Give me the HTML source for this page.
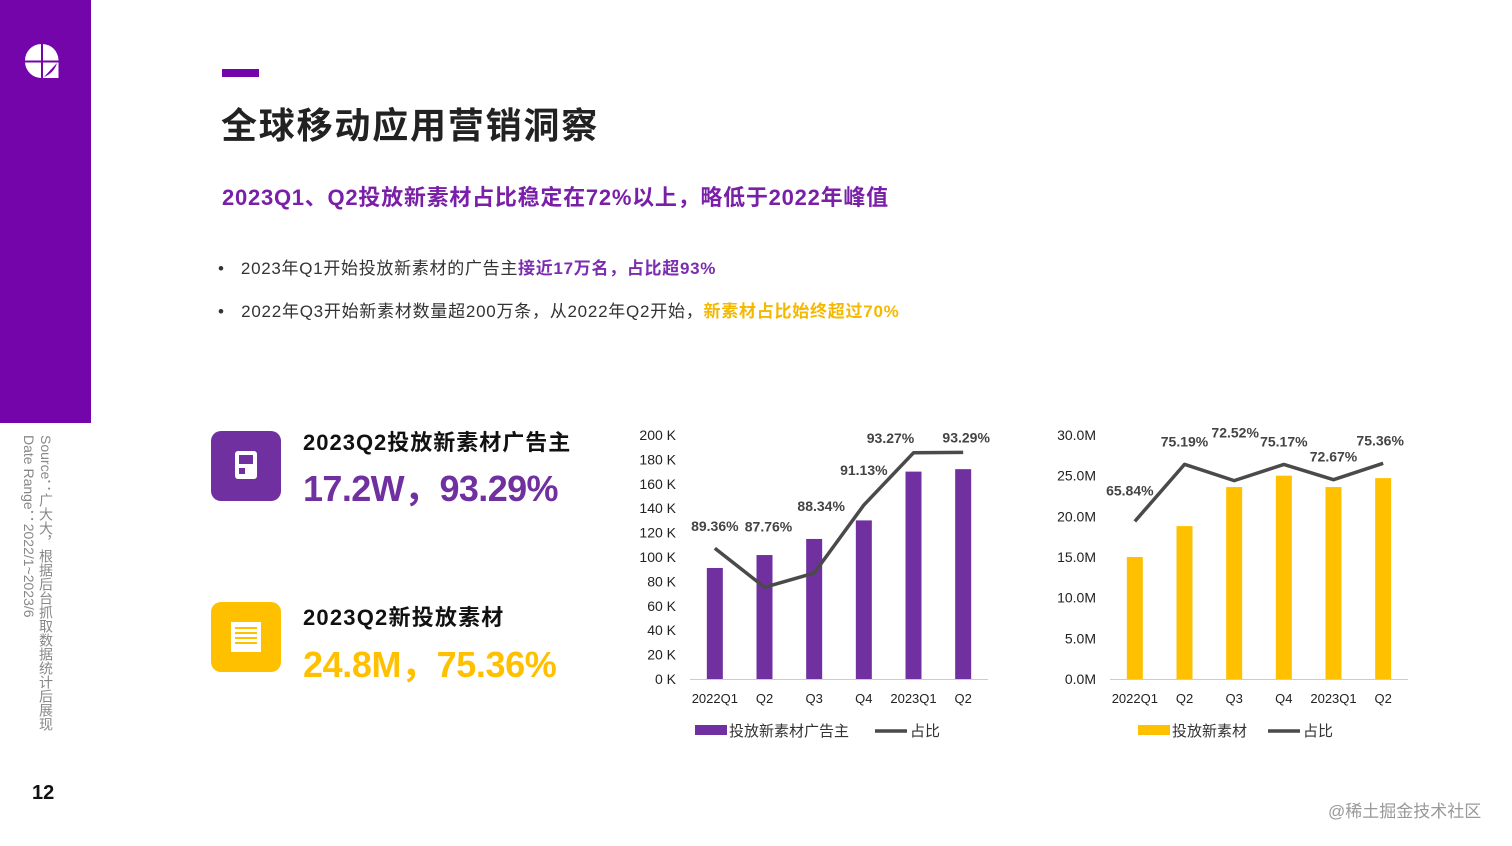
<!DOCTYPE html>
<html><head><meta charset="utf-8">
<style>
*{margin:0;padding:0;box-sizing:border-box}
body{width:1512px;height:846px;background:#fff;position:relative;overflow:hidden;font-family:"Liberation Sans","Noto Sans CJK SC",sans-serif}
.abs{position:absolute;white-space:nowrap}
</style></head><body>
<div class="abs" style="left:0;top:0;width:91px;height:423px;background:#7405aa"></div>
<svg class="abs" style="left:24px;top:43px" width="36" height="36" viewBox="0 0 36 36">
<path d="M17 1A16.5 16.5 0 0 0 1 17.5H17Z M19 1A16.5 16.5 0 0 1 34.5 16.5V17.5H19Z M1 19.5A16.5 16.5 0 0 0 17 35V19.5Z M19 19.5H34.5V35H19Z" fill="#fff"/>
<path d="M20 34L33 20Q30 30 20 34Z" fill="#7405aa"/>
</svg>
<div class="abs" style="left:222px;top:69px;width:37px;height:8px;background:#7405aa"></div>
<div class="abs" style="left:221px;top:104px;font-size:36px;line-height:44px;font-weight:bold;color:#222;letter-spacing:1.8px">全球移动应用营销洞察</div>
<div class="abs" style="left:222px;top:184px;font-size:22px;line-height:28px;font-weight:bold;color:#7a1fa8;letter-spacing:0.75px">2023Q1、Q2投放新素材占比稳定在72%以上，略低于2022年峰值</div>
<div class="abs" style="left:218px;top:258px;font-size:17px;line-height:22px;color:#333;letter-spacing:0.7px">•&nbsp;&nbsp;&nbsp;2023年Q1开始投放新素材的广告主<b style="color:#7b2cb0">接近17万名，占比超93%</b></div>
<div class="abs" style="left:218px;top:301px;font-size:17px;line-height:22px;color:#333;letter-spacing:0.75px">•&nbsp;&nbsp;&nbsp;2022年Q3开始新素材数量超200万条，从2022年Q2开始，<b style="color:#f5b800">新素材占比始终超过70%</b></div>

<div class="abs" style="left:211px;top:431px;width:70px;height:70px;border-radius:10px;background:#7030a0">
<div style="position:absolute;left:24px;top:20px;width:22px;height:28px;border-radius:3px;background:#fff"></div>
<div style="position:absolute;left:28px;top:24px;width:14px;height:9px;background:#7030a0"></div>
<div style="position:absolute;left:28px;top:37px;width:6px;height:6px;background:#7030a0"></div>
</div>
<div class="abs" style="left:303px;top:429px;font-size:22px;line-height:28px;font-weight:bold;color:#111;letter-spacing:1px">2023Q2投放新素材广告主</div>
<div class="abs" style="left:303px;top:467px;font-size:36px;line-height:44px;font-weight:bold;color:#7030a0;letter-spacing:-0.6px">17.2W，93.29%</div>

<div class="abs" style="left:211px;top:602px;width:70px;height:70px;border-radius:10px;background:#ffc000">
<div style="position:absolute;left:20px;top:20px;width:30px;height:30px;background:#fff"></div>
<div style="position:absolute;left:24px;top:25px;width:22px;height:2px;background:#ffc000;box-shadow:0 5px 0 #ffc000,0 10px 0 #ffc000,0 15px 0 #ffc000"></div>
</div>
<div class="abs" style="left:303px;top:604px;font-size:22px;line-height:28px;font-weight:bold;color:#111;letter-spacing:1.2px">2023Q2新投放素材</div>
<div class="abs" style="left:303px;top:643px;font-size:36px;line-height:44px;font-weight:bold;color:#ffc000;letter-spacing:-0.4px">24.8M，75.36%</div>

<div class="abs" style="left:20px;top:435px;writing-mode:vertical-rl;font-size:14px;line-height:17px;color:#888">Source：广大大，根据后台抓取数据统计后展现<br>Date Range：2022/1~2023/6</div>
<div class="abs" style="left:32px;top:780px;font-size:20px;line-height:26px;font-weight:bold;color:#111">12</div>
<div class="abs" style="left:1328px;top:801px;font-size:17px;line-height:22px;color:#999">@稀土掘金技术社区</div>

<svg class="abs" id="charts" style="left:0;top:0" width="1512" height="846"></svg>

<script>
const categories = ["2022Q1","Q2","Q3","Q4","2023Q1","Q2"];
const advertiserCounts = [91, 101.6, 114.8, 130, 170, 172]; // K
const advertiserShare = [89.36, 87.76, 88.34, 91.13, 93.27, 93.29];
const advertiserTicks = ["0 K","20 K","40 K","60 K","80 K","100 K","120 K","140 K","160 K","180 K","200 K"];
const materialCounts = [15.0, 18.8, 23.6, 25.0, 23.6, 24.7]; // M
const materialShare = [65.84, 75.19, 72.52, 75.17, 72.67, 75.36];
const materialTicks = ["0.0M","5.0M","10.0M","15.0M","20.0M","25.0M","30.0M"];

const svg = document.getElementById('charts');
const NS = 'http://www.w3.org/2000/svg';
function mk(tag, attrs, parent){const e=document.createElementNS(NS,tag);for(const k in attrs)e.setAttribute(k,attrs[k]);(parent||svg).appendChild(e);return e;}

function drawChart(cfg){
  const g = mk('g',{});
  
  
  const x0=cfg.x0, x1=cfg.x0+298, yb=679, yt=435, step=(x1-x0)/categories.length;
  const xc=i=>x0+step*(i+0.5);
  const yv=v=>yb-(v/cfg.max)*(yb-yt);
  const yp=p=>yb-((p-cfg.pmin)/(cfg.pmax-cfg.pmin))*(yb-yt);
  cfg.ticks.forEach((t,i)=>{
    const y=yb-i*(yb-yt)/(cfg.ticks.length-1);
    const tx=mk('text',{x:cfg.tickX,y:y+5,'text-anchor':'end','font-size':14,fill:'#222'},g);
    tx.textContent=t;
    
    
  });
  const ax=mk('line',{x1:x0,x2:x1,y1:yb+0.5,y2:yb+0.5,stroke:'#ccc','stroke-width':1},g);
  
  
  categories.forEach((c,i)=>{
    const tx=mk('text',{x:xc(i),y:703,'text-anchor':'middle','font-size':13,fill:'#222'},g);
    tx.textContent=c;
    
    
  });
  cfg.counts.forEach((v,i)=>{
    const r=mk('rect',{x:xc(i)-8,y:yv(v),width:16,height:yb-yv(v),fill:cfg.color},g);
    
    
  });
  const pts=cfg.share.map((p,i)=>xc(i)+','+yp(p)).join(' ');
  const pl=mk('polyline',{points:pts,fill:'none',stroke:'#4a4a4a','stroke-width':3.5,'stroke-linejoin':'round'},g);
  
  
  cfg.share.forEach((p,i)=>{
    const o=cfg.lblOff[i];
    const tx=mk('text',{x:xc(i)+o[0],y:yp(p)+o[1],'text-anchor':'middle','font-size':14,'font-weight':'bold',fill:'#444'},g);
    tx.textContent=p.toFixed(2)+'%';
    
    
  });
  const lr=mk('rect',{x:cfg.legX,y:725,width:32,height:10,fill:cfg.color},g);
  
  
  const lt=mk('text',{x:cfg.legX+34,y:736,'font-size':15,fill:'#333'},g);
  lt.textContent=cfg.legend;
  
  
  const ll=mk('line',{x1:cfg.legX2,x2:cfg.legX2+32,y1:731,y2:731,stroke:'#4a4a4a','stroke-width':3.5},g);
  
  
  const lt2=mk('text',{x:cfg.legX2+35,y:736,'font-size':15,fill:'#333'},g);
  lt2.textContent='占比';
  
  
}
drawChart({name:'advertiser-chart',x0:690,max:200,pmin:84,pmax:94,counts:advertiserCounts,share:advertiserShare,ticks:advertiserTicks,tickX:676,color:'#7030a0',
  lblOff:[[0,-17],[4,-56],[7,-62],[0,-30],[-23,-10],[3,-10]],legX:695,legX2:875,legend:'投放新素材广告主'});
drawChart({name:'material-chart',x0:1110,max:30,pmin:40,pmax:80,counts:materialCounts,share:materialShare,ticks:materialTicks,tickX:1096,color:'#ffc000',
  lblOff:[[-5,-26],[0,-18],[1,-43],[0,-18],[0,-18],[-3,-18]],legX:1138,legX2:1268,legend:'投放新素材'});
</script>
</body></html>
